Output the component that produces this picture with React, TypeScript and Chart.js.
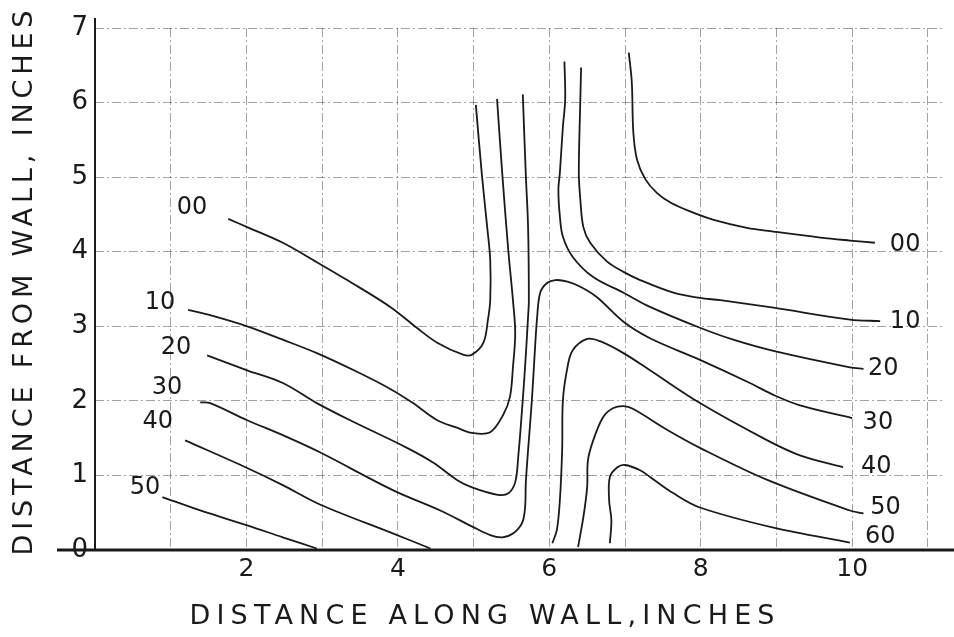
import React, { useEffect, useRef } from 'react';
import { Chart, registerables } from 'chart.js';

Chart.register(...registerables);

type Pt = [number, number];

// Contour traces, [distance along wall, distance from wall] in inches.
const c00Left: Pt[] = [
  [1.76, 4.44], [2.01, 4.33], [2.48, 4.12], [2.93, 3.86], [3.33, 3.62], [3.9, 3.26],
  [4.25, 2.98], [4.52, 2.78], [4.86, 2.62], [4.98, 2.62], [5.13, 2.78], [5.19, 3.09],
  [5.22, 3.35], [5.22, 3.89], [5.18, 4.33], [5.11, 5.03], [5.03, 5.97],
];
const c00Right: Pt[] = [
  [7.05, 6.67], [7.09, 6.27], [7.11, 5.6], [7.16, 5.23], [7.27, 4.97], [7.42, 4.79],
  [7.6, 4.66], [7.86, 4.54], [8.16, 4.43], [8.61, 4.32], [8.96, 4.27], [9.58, 4.19],
  [9.97, 4.15], [10.3, 4.12],
];
const c10Left: Pt[] = [
  [1.23, 3.22], [1.52, 3.15], [2.01, 3.0], [2.48, 2.82], [2.93, 2.64], [3.46, 2.39],
  [3.9, 2.16], [4.2, 1.97], [4.52, 1.74], [4.78, 1.64], [4.98, 1.57], [5.22, 1.58],
  [5.39, 1.81], [5.48, 2.05], [5.52, 2.45], [5.55, 2.91], [5.52, 3.35], [5.46, 4.0],
  [5.38, 5.03], [5.31, 6.05],
];
const c10Right: Pt[] = [
  [6.42, 6.47], [6.41, 6.04], [6.39, 5.06], [6.41, 4.7], [6.45, 4.33], [6.54, 4.12],
  [6.76, 3.87], [6.98, 3.73], [7.2, 3.62], [7.64, 3.45], [7.99, 3.38], [8.26, 3.35],
  [8.96, 3.25], [9.97, 3.09], [10.37, 3.07],
];
const c20Left: Pt[] = [
  [1.48, 2.61], [2.01, 2.41], [2.48, 2.24], [2.93, 1.97], [3.37, 1.74], [4.12, 1.37],
  [4.47, 1.17], [4.78, 0.94], [4.98, 0.84], [5.32, 0.74], [5.46, 0.76], [5.55, 0.91],
  [5.59, 1.25], [5.64, 1.88], [5.68, 2.45], [5.72, 3.13], [5.73, 3.35], [5.72, 4.33],
  [5.69, 5.03], [5.65, 6.11],
];
const c20Right: Pt[] = [
  [6.2, 6.55], [6.21, 6.04], [6.18, 5.68], [6.14, 5.06], [6.12, 4.83], [6.14, 4.47],
  [6.18, 4.2], [6.31, 3.93], [6.58, 3.66], [6.98, 3.45], [7.33, 3.26], [7.99, 2.98],
  [8.43, 2.82], [8.96, 2.67], [9.97, 2.45], [10.15, 2.43],
];
const c30: Pt[] = [
  [1.39, 1.98], [1.52, 1.97], [2.01, 1.74], [2.48, 1.54], [2.97, 1.31], [3.94, 0.8],
  [4.56, 0.53], [4.99, 0.31], [5.22, 0.2], [5.38, 0.17], [5.52, 0.22], [5.64, 0.36],
  [5.68, 0.57], [5.69, 0.9], [5.72, 1.34], [5.77, 2.01], [5.81, 2.68], [5.84, 3.13],
  [5.88, 3.45], [5.97, 3.58], [6.08, 3.62], [6.24, 3.6], [6.41, 3.53], [6.63, 3.39],
  [6.98, 3.06], [7.33, 2.84], [7.99, 2.55], [8.65, 2.24], [8.96, 2.08], [9.31, 1.94],
  [10.0, 1.77],
];
const c40Left: Pt[] = [
  [1.19, 1.47], [2.01, 1.1], [2.48, 0.87], [2.97, 0.61], [3.94, 0.22], [4.43, 0.02],
];
const c40Right: Pt[] = [
  [6.04, 0.09], [6.1, 0.27], [6.14, 0.67], [6.17, 1.34], [6.18, 2.01], [6.24, 2.45],
  [6.31, 2.68], [6.5, 2.83], [6.67, 2.8], [6.98, 2.64], [7.33, 2.41], [7.99, 1.97],
  [8.88, 1.47], [9.31, 1.27], [9.88, 1.11],
];
const c50Left: Pt[] = [
  [0.89, 0.71], [1.39, 0.53], [2.01, 0.33], [2.48, 0.17], [2.93, 0.02],
];
const c50Right: Pt[] = [
  [6.38, 0.04], [6.45, 0.44], [6.5, 0.84], [6.51, 1.2], [6.58, 1.47], [6.71, 1.78],
  [6.84, 1.9], [6.98, 1.93], [7.11, 1.89], [7.56, 1.61], [7.99, 1.37], [8.88, 0.94],
  [9.97, 0.53], [10.15, 0.49],
];
const c60: Pt[] = [
  [6.8, 0.09], [6.82, 0.4], [6.79, 0.67], [6.8, 0.98], [6.9, 1.11], [7.0, 1.14],
  [7.2, 1.07], [7.33, 0.98], [7.64, 0.76], [7.99, 0.57], [8.96, 0.3], [9.97, 0.1],
];

const contours: Pt[][] = [
  c00Left, c00Right, c10Left, c10Right, c20Left, c20Right,
  c30, c40Left, c40Right, c50Left, c50Right, c60,
];

// Contour value tags: [text, x, y] in inches.
const contourLabels: [string, number, number][] = [
  ['00', 1.28, 4.59], ['10', 0.86, 3.31], ['20', 1.07, 2.71], ['30', 0.95, 2.17],
  ['40', 0.83, 1.72], ['50', 0.66, 0.84],
  ['00', 10.7, 4.09], ['10', 10.7, 3.06], ['20', 10.41, 2.43], ['30', 10.34, 1.7],
  ['40', 10.32, 1.11], ['50', 10.44, 0.56], ['60', 10.37, 0.18],
];

const xTickLabels = ['2', '4', '6', '8', '10'];
const yTickLabels = ['0', '1', '2', '3', '4', '5', '6', '7'];
const xTitle = 'DISTANCE ALONG WALL,INCHES';
const yTitle = 'DISTANCE FROM WALL, INCHES';

const FONT = '"DejaVu Sans", sans-serif';
const INK = '#1a1a1a';

function spacedText(
  ctx: CanvasRenderingContext2D, text: string, cx: number, cy: number,
  span: number, angle: number,
) {
  ctx.save();
  ctx.translate(cx, cy);
  ctx.rotate(angle);
  (ctx as any).letterSpacing = '0px';
  const w = ctx.measureText(text).width;
  const gap = (span - w) / (text.length - 1);
  (ctx as any).letterSpacing = `${gap}px`;
  ctx.textAlign = 'left';
  ctx.textBaseline = 'middle';
  ctx.fillText(text, -span / 2, 0);
  ctx.restore();
}

const paperPlugin = {
  id: 'paper',
  afterDatasetsDraw(chart: any) {
    const { ctx, chartArea: a, scales } = chart;
    const sx = scales.x;
    const sy = scales.y;
    ctx.save();
    ctx.strokeStyle = INK;
    ctx.lineWidth = 2;
    ctx.beginPath();
    ctx.moveTo(a.left, a.top - 10);
    ctx.lineTo(a.left, a.bottom);
    ctx.stroke();
    ctx.lineWidth = 3;
    ctx.beginPath();
    ctx.moveTo(a.left - 38, a.bottom);
    ctx.lineTo(chart.width, a.bottom);
    ctx.stroke();

    ctx.fillStyle = INK;
    ctx.font = `24px ${FONT}`;
    ctx.textAlign = 'center';
    ctx.textBaseline = 'middle';
    for (const [t, vx, vy] of contourLabels) {
      ctx.fillText(t, sx.getPixelForValue(vx), sy.getPixelForValue(vy));
    }

    ctx.font = `27px ${FONT}`;
    spacedText(ctx, xTitle, 482, 617, 585, 0);
    spacedText(ctx, yTitle, 25, 283, 545, -Math.PI / 2);
    ctx.restore();
  },
};

export default function App() {
  const ref = useRef<HTMLCanvasElement>(null);

  useEffect(() => {
    if (!ref.current) return;
    const chart = new Chart(ref.current, {
      type: 'scatter',
      data: {
        datasets: contours.map((c) => ({
          data: c.map(([x, y]) => ({ x, y })),
          showLine: true,
          borderColor: INK,
          borderWidth: 1.8,
          pointRadius: 0,
          tension: 0.35,
          fill: false,
        })),
      },
      options: {
        responsive: false,
        animation: false,
        layout: { padding: { top: 28, right: 11, left: 0, bottom: 0 } },
        plugins: { legend: { display: false }, tooltip: { enabled: false } },
        scales: {
          x: {
            type: 'linear',
            min: 0,
            max: 11.2,
            afterFit: (s: any) => { s.height = 87; },
            ticks: {
              stepSize: 1,
              includeBounds: false,
              autoSkip: false,
              maxRotation: 0,
              padding: 4,
              color: INK,
              font: { family: FONT, size: 25 },
              callback: (v: any) => (xTickLabels.includes(String(v)) ? String(v) : ''),
            },
            grid: { color: 'rgba(0,0,0,0.36)', lineWidth: 1, drawTicks: false },
            border: { display: false, dash: [9, 3, 2, 3] },
          },
          y: {
            type: 'linear',
            min: 0,
            max: 7,
            afterFit: (s: any) => { s.width = 95; },
            ticks: {
              stepSize: 1,
              autoSkip: false,
              padding: 7,
              color: INK,
              font: { family: FONT, size: 26 },
              callback: (v: any) => yTickLabels[v] ?? '',
            },
            grid: { color: 'rgba(0,0,0,0.36)', lineWidth: 1, drawTicks: false },
            border: { display: false, dash: [9, 3, 2, 3] },
          },
        },
      },
      plugins: [paperPlugin],
    });
    return () => chart.destroy();
  }, []);

  return (
    <div style={{ position: 'absolute', left: 0, top: 0, width: 954, height: 637, background: '#fff' }}>
      <canvas ref={ref} width={954} height={637} />
    </div>
  );
}
